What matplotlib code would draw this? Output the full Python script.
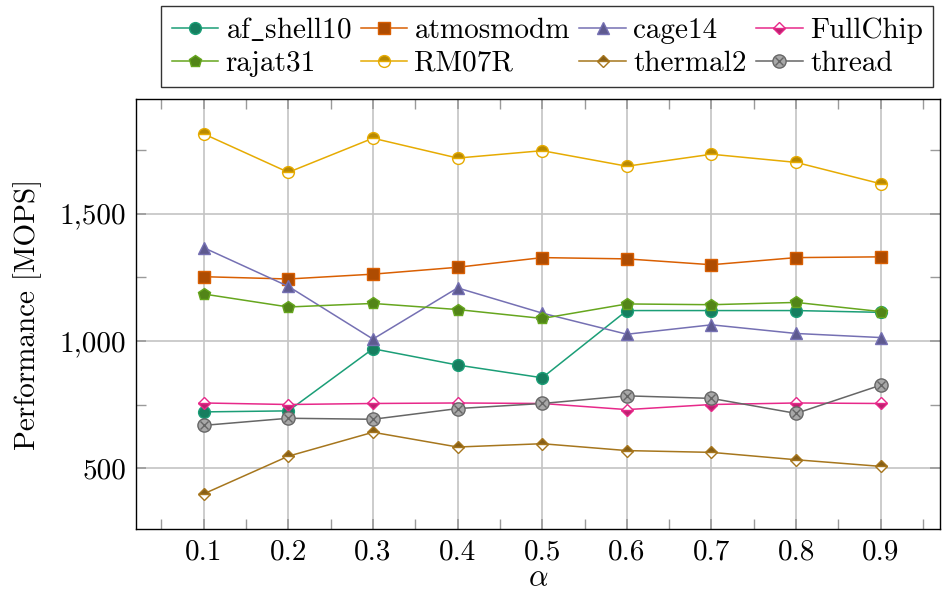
import matplotlib
matplotlib.use("Agg")
import matplotlib.pyplot as plt
from matplotlib.ticker import FixedLocator, MultipleLocator, FuncFormatter
from matplotlib.legend_handler import HandlerTuple
import numpy as np

plt.rcParams['font.family'] = ['cmr10', 'DejaVu Serif']
plt.rcParams['mathtext.fontset'] = 'cm'
plt.rcParams['axes.formatter.use_mathtext'] = True

alpha = [0.1, 0.2, 0.3, 0.4, 0.5, 0.6, 0.7, 0.8, 0.9]
af_shell10 = [721, 725, 969, 905, 855, 1119, 1119, 1119, 1112]
atmosmodm = [1252, 1243, 1262, 1289, 1327, 1322, 1299, 1327, 1330]
cage14 = [1366, 1214, 1007, 1208, 1109, 1026, 1063, 1029, 1013]
FullChip = [756, 750, 754, 756, 754, 730, 750, 756, 754]
rajat31 = [1184, 1133, 1147, 1123, 1088, 1145, 1142, 1151, 1115]
RM07R = [1813, 1662, 1796, 1718, 1747, 1686, 1733, 1701, 1617]
thermal2 = [399, 547, 641, 583, 596, 569, 562, 533, 507]
thread = [668, 696, 692, 734, 754, 784, 774, 715, 826]

labels = ["af_shell10", "atmosmodm", "cage14", "FullChip",
          "rajat31", "RM07R", "thermal2", "thread"]
series = [af_shell10, atmosmodm, cage14, FullChip, rajat31, RM07R, thermal2, thread]
colors = ["#1b9e77", "#d95f02", "#7570b3", "#e7298a",
          "#66a61e", "#e6ab02", "#a6761d", "#666666"]


def darker(c, f=0.8):
    r, g, b = matplotlib.colors.to_rgb(c)
    return (r * f, g * f, b * f)


fig = plt.figure(figsize=(9.42, 5.95), dpi=100)
ax = fig.add_axes([136 / 942, 1 - 529 / 595, (940 - 136) / 942, (529 - 99) / 595])

handles = []
for lab, ys, c in zip(labels, series, colors):
    kw = dict(color=c, lw=1.1, markeredgecolor=c, markeredgewidth=1.0, zorder=3)
    if lab == "af_shell10":
        h, = ax.plot(alpha, ys, marker='o', ms=8.5, mfc=darker(c), **kw)
    elif lab == "atmosmodm":
        h, = ax.plot(alpha, ys, marker='s', ms=9, mfc=darker(c), **kw)
    elif lab == "cage14":
        h, = ax.plot(alpha, ys, marker='^', ms=8.5, mfc=darker(c), **kw)
    elif lab == "FullChip":
        h, = ax.plot(alpha, ys, marker='D', ms=6.5, mfc=darker(c), fillstyle='bottom',
                     markerfacecoloralt='white', **kw)
    elif lab == "rajat31":
        h, = ax.plot(alpha, ys, marker='p', ms=9, mfc=darker(c), **kw)
    elif lab == "RM07R":
        h, = ax.plot(alpha, ys, marker='o', ms=8.5, mfc=darker(c), fillstyle='top',
                     markerfacecoloralt='white', **kw)
    elif lab == "thermal2":
        h, = ax.plot(alpha, ys, marker='D', ms=6.5, mfc=darker(c), fillstyle='top',
                     markerfacecoloralt='white', **kw)
    else:
        h1, = ax.plot(alpha, ys, marker='o', ms=9.5, mfc='#a8a8a8', **kw)
        h2, = ax.plot(alpha, ys, marker='x', ms=5.5, ls='none', color=c,
                      markeredgewidth=1.0, zorder=4)
        h = (h1, h2)
    handles.append(h)

ax.set_xlim(0.02, 0.97)
ax.set_ylim(261, 1950)
ax.xaxis.set_major_locator(FixedLocator(alpha))
ax.xaxis.set_minor_locator(FixedLocator([0.05 + 0.1 * i for i in range(10)]))
ax.yaxis.set_major_locator(MultipleLocator(500))
ax.yaxis.set_minor_locator(MultipleLocator(250))
ax.xaxis.set_major_formatter(FuncFormatter(lambda v, p: f"{v:.1f}"))
ax.yaxis.set_major_formatter(FuncFormatter(lambda v, p: f"{int(round(v)):,}"))

ax.grid(True, which='major', color='#c4c4c4', lw=1.2, zorder=0)
ax.set_axisbelow(True)
ax.tick_params(which='both', direction='in', top=True, right=True, color='#9a9a9a',
               labelsize=21, pad=7)
ax.tick_params(which='major', length=7, width=1.2)
ax.tick_params(which='minor', length=7, width=1.0)
for s in ax.spines.values():
    s.set_linewidth(1.0)
    s.set_color('black')

ax.set_xlabel(r'$\alpha$', fontsize=22, labelpad=0)
ax.set_ylabel('Performance [MOPS]', fontsize=21, labelpad=13)

leg_labels = [r'$\mathrm{af\_shell10}$' if l == "af_shell10" else l for l in labels]
order = [0, 4, 1, 5, 2, 6, 3, 7]
leg = fig.legend([handles[i] for i in order], [leg_labels[i] for i in order],
                 loc='upper center', bbox_to_anchor=(0.581, 1.0),
                 ncol=4, fontsize=21, frameon=True, fancybox=False, edgecolor='black',
                 handlelength=1.6, handletextpad=0.25, columnspacing=0.32,
                 borderpad=0.35, labelspacing=0.22, borderaxespad=0.2,
                 handler_map={tuple: HandlerTuple(ndivide=1)})
leg.get_frame().set_linewidth(1.0)

fig.savefig("out.png", dpi=100)
